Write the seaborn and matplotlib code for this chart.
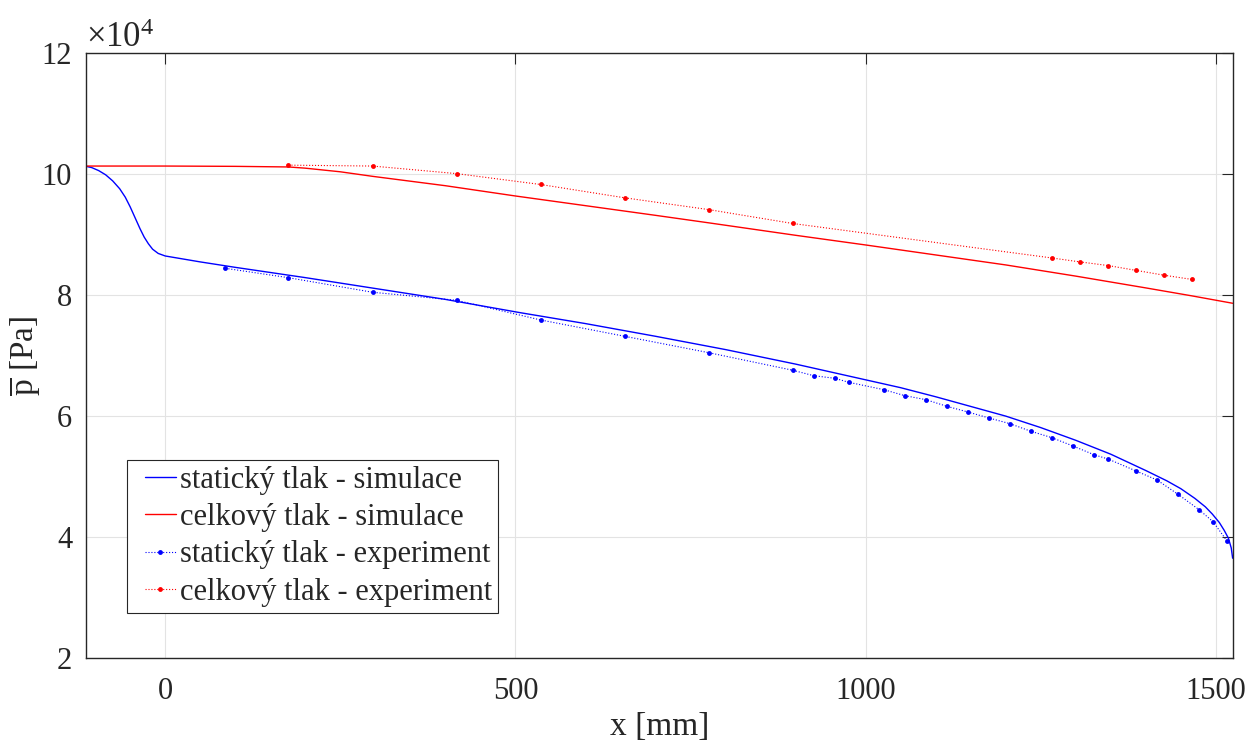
import numpy as np
import pandas as pd
import matplotlib
matplotlib.use("Agg")
import matplotlib.pyplot as plt
import seaborn as sns
from matplotlib.ticker import FixedLocator, FuncFormatter
from matplotlib.legend_handler import HandlerLine2D
from matplotlib.lines import Line2D

# ---- data (pressure values in units of 1e4 Pa) ----
sim_static_x = [-113, -105, -95, -85, -75, -65, -57, -50, -43, -36, -30, -24, -18, -10, 0,
                50, 100, 200, 300, 400, 507, 600, 700, 800, 900, 1000, 1050, 1100, 1150,
                1200, 1250, 1300, 1350, 1400, 1430, 1450, 1470, 1485, 1495, 1505, 1512,
                1518, 1522, 1524]
sim_static_p = [10.13, 10.11, 10.06, 9.99, 9.89, 9.76, 9.62, 9.46, 9.28, 9.10, 8.96, 8.85,
                8.76, 8.69, 8.648, 8.55, 8.46, 8.29, 8.11, 7.93, 7.71, 7.53, 7.32, 7.10,
                6.86, 6.60, 6.47, 6.32, 6.16, 6.00, 5.81, 5.60, 5.37, 5.10, 4.93, 4.80,
                4.64, 4.50, 4.38, 4.24, 4.11, 3.98, 3.82, 3.65]

sim_total_x = [-113, 0, 100, 176, 200, 250, 296, 400, 500, 600, 700, 776, 900, 1000,
               1100, 1200, 1300, 1400, 1465, 1524]
sim_total_p = [10.135, 10.135, 10.13, 10.12, 10.10, 10.04, 9.965, 9.81, 9.64, 9.48, 9.32,
               9.196, 8.99, 8.83, 8.665, 8.50, 8.315, 8.12, 7.99, 7.866]

exp_static_x = [86, 176, 296, 416, 536, 656, 776, 896, 926, 956, 976, 1026, 1056, 1086, 1116,
                1146, 1176, 1206, 1236, 1266, 1296, 1326, 1346, 1386, 1416, 1446, 1476, 1496, 1516]
exp_static_p = [8.444, 8.289, 8.048, 7.915, 7.590, 7.320, 7.049, 6.758, 6.668, 6.625, 6.559,
                6.437, 6.338, 6.272, 6.162, 6.068, 5.969, 5.875, 5.749, 5.643, 5.506, 5.362,
                5.291, 5.093, 4.944, 4.707, 4.453, 4.254, 3.935]

exp_total_x = [176, 296, 416, 536, 656, 776, 896, 1266, 1306, 1346, 1386, 1426, 1466]
exp_total_p = [10.15, 10.135, 10.01, 9.83, 9.61, 9.415, 9.185, 8.615, 8.55, 8.49, 8.41, 8.33, 8.26]

labels = ["statický tlak - simulace", "celkový tlak - simulace",
          "statický tlak - experiment", "celkový tlak - experiment"]
x_ticks = [0, 500, 1000, 1500]
y_ticks = [2, 4, 6, 8, 10, 12]
exponent_label = r"$\times10^{4}$"

# ---- style ----
sns.set_style("white")
plt.rcParams["font.family"] = ["Liberation Serif", "DejaVu Serif"]
plt.rcParams["mathtext.fontset"] = "custom"
plt.rcParams["mathtext.rm"] = "Liberation Serif"
plt.rcParams["mathtext.it"] = "Liberation Serif:italic"

fig = plt.figure(figsize=(12.49, 7.44), dpi=100)
ax = fig.add_axes([0.0689, 0.1156, 0.918, 0.8128])

dark = "#262626"

sns.lineplot(x=sim_static_x, y=sim_static_p, ax=ax, color="#0000ff",
             lw=1.0, sort=False, estimator=None, label=labels[0])
sns.lineplot(x=sim_total_x, y=sim_total_p, ax=ax, color="#ff0000",
             lw=1.0, sort=False, estimator=None, label=labels[1])
sns.lineplot(x=exp_static_x, y=exp_static_p, ax=ax, color="#0000ff",
             lw=0.8, linestyle=":", marker=".", markersize=7, markeredgewidth=0,
             sort=False, estimator=None, label=labels[2])
sns.lineplot(x=exp_total_x, y=exp_total_p, ax=ax, color="#ff0000",
             lw=0.8, linestyle=":", marker=".", markersize=7, markeredgewidth=0,
             sort=False, estimator=None, label=labels[3])

ax.set_xlim(-113, 1524)
ax.set_ylim(2, 12)
ax.xaxis.set_major_locator(FixedLocator(x_ticks))
ax.yaxis.set_major_locator(FixedLocator(y_ticks))
ax.yaxis.set_major_formatter(FuncFormatter(lambda v, p: f"{v:g}"))
ax.text(0.0, 1.0099, exponent_label, transform=ax.transAxes, ha="left", va="baseline",
        fontsize=25, color=dark)

ax.grid(True, color="#e3e3e3", lw=0.8)
ax.set_axisbelow(True)
for s in ax.spines.values():
    s.set_visible(True)
    s.set_color(dark)
    s.set_linewidth(1.0)
ax.tick_params(direction="in", length=8, width=0.8, color=dark, top=True, right=True,
               labelsize=22, labelcolor=dark)
ax.tick_params(axis="x", pad=14)
ax.tick_params(axis="y", pad=10)

ax.set_xlabel("x [mm]", fontsize=24, color=dark, labelpad=4)
ax.set_ylabel(r"$\overline{\mathrm{p}}$ [Pa]", fontsize=24, color=dark)
ax.yaxis.set_label_coords(-0.0384, 0.5)

handles, lbls = ax.get_legend_handles_labels()
leg = ax.legend(handles, lbls, loc="lower left", bbox_to_anchor=(0.0357, 0.0744), fontsize=22,
                frameon=True, fancybox=False, framealpha=1, edgecolor=dark,
                handlelength=1.39, handletextpad=0.15, labelspacing=0.275, borderpad=0.2,
                borderaxespad=0,
                handler_map={Line2D: HandlerLine2D(xpad=0.39)})
leg.get_frame().set_linewidth(0.8)

fig.savefig("out.png", dpi=100)
